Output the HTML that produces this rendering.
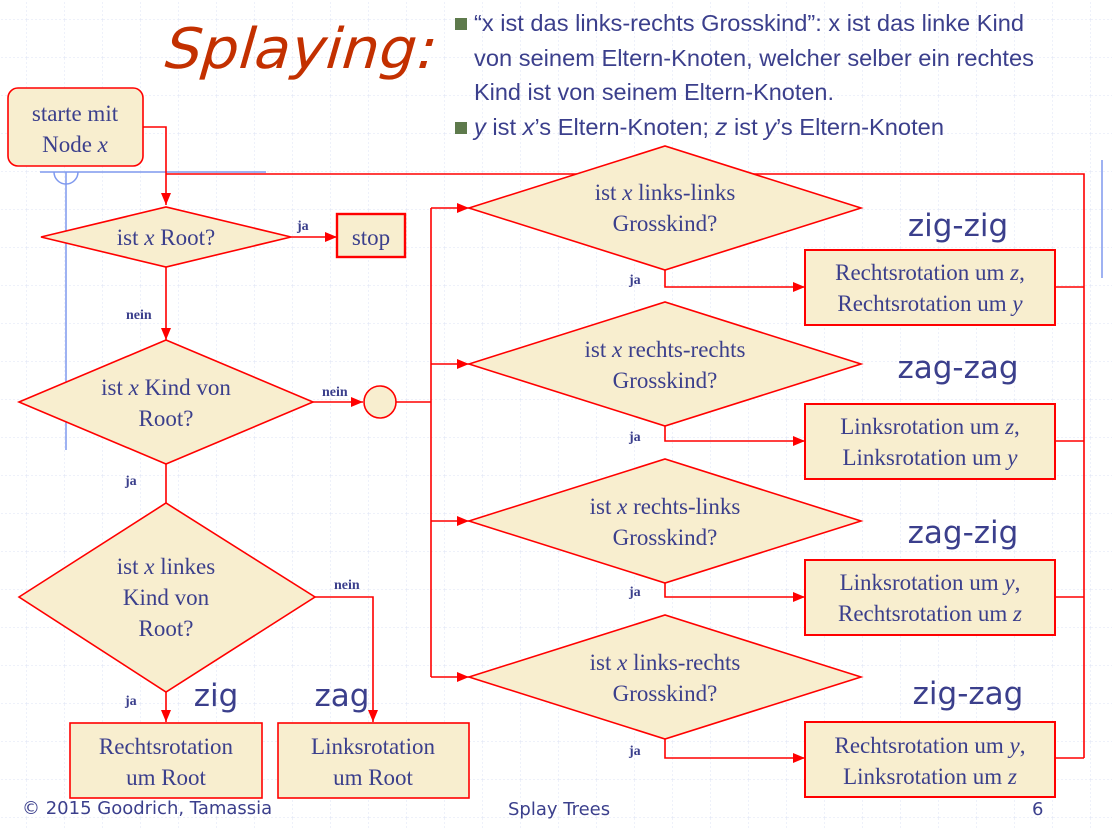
<!DOCTYPE html>
<html><head><meta charset="utf-8"><style>
html,body{margin:0;padding:0;background:#fff;}
svg{display:block}
.s{font-family:"Liberation Serif",serif;fill:#3b3f8c;font-size:23px}
.b{font-family:"Liberation Serif",serif;fill:#3b3f8c;font-size:14px;font-weight:bold}
.a{font-family:"Liberation Sans",sans-serif;fill:#3b3f8c}
.l{font-family:"DejaVu Sans",sans-serif;fill:#3b3f8c;font-size:31px}
</style></head><body>
<svg width="1112" height="828" viewBox="0 0 1112 828" xmlns="http://www.w3.org/2000/svg">
<defs>
<pattern id="g" x="-11" y="-18" width="38" height="38" patternUnits="userSpaceOnUse">
<path d="M38 0V38M0 38H38" stroke="#dde3f4" stroke-width="1" stroke-dasharray="2 2" fill="none"/>
</pattern>
<marker id="ar" markerWidth="12" markerHeight="10" refX="12" refY="5" orient="auto" markerUnits="userSpaceOnUse">
<path d="M0 0L12 5L0 10Z" fill="#f00"/>
</marker>
</defs>
<rect width="1112" height="828" fill="url(#g)"/>
<g stroke="#7f99ee" stroke-width="1.5" fill="none">
<path d="M40 172H266"/><path d="M66 172V450"/><path d="M54 172A12 12 0 0 0 78 172"/>
<path d="M1102 160V278"/>
</g>
<text transform="translate(160,68) skewX(-16)" x="0" y="0" font-family="DejaVu Sans,sans-serif" font-size="56" fill="#c33000" textLength="272" lengthAdjust="spacingAndGlyphs">Splaying:</text>
<g fill="#5e7a4c"><rect x="455" y="18" width="12" height="12"/><rect x="455" y="122" width="12" height="12"/></g>
<g class="a" font-size="23">
<text x="474" y="31" textLength="550" lengthAdjust="spacingAndGlyphs">“x ist das links-rechts Grosskind”: x ist das linke Kind</text>
<text x="474" y="66" textLength="560" lengthAdjust="spacingAndGlyphs">von seinem Eltern-Knoten, welcher selber ein rechtes</text>
<text x="474" y="100" textLength="360" lengthAdjust="spacingAndGlyphs">Kind ist von seinem Eltern-Knoten.</text>
<text x="474" y="135" textLength="470" lengthAdjust="spacingAndGlyphs"><tspan font-style="italic">y</tspan> ist <tspan font-style="italic">x</tspan>’s Eltern-Knoten; <tspan font-style="italic">z</tspan> ist <tspan font-style="italic">y</tspan>’s Eltern-Knoten</text>
</g>
<g stroke="#f00" stroke-width="1.6" fill="none">
<path d="M143 127H166V205" marker-end="url(#ar)"/>
<path d="M166 174H1084V758"/>
<path d="M291 237H337" marker-end="url(#ar)"/>
<path d="M166 267V340" marker-end="url(#ar)"/>
<path d="M313 402H363" marker-end="url(#ar)"/>
<path d="M396 402H431"/>
<path d="M431 208V677"/>
<path d="M431 208H469" marker-end="url(#ar)"/>
<path d="M431 364H469" marker-end="url(#ar)"/>
<path d="M431 521H469" marker-end="url(#ar)"/>
<path d="M431 677H469" marker-end="url(#ar)"/>
<path d="M166 464V503"/>
<path d="M315 597H373V722" marker-end="url(#ar)"/>
<path d="M166 692V722" marker-end="url(#ar)"/>
<path d="M665 270V287H805" marker-end="url(#ar)"/>
<path d="M665 426V441H805" marker-end="url(#ar)"/>
<path d="M665 583V597H805" marker-end="url(#ar)"/>
<path d="M665 739V758H805" marker-end="url(#ar)"/>
<path d="M1055 287H1084M1055 441H1084M1055 597H1084M1055 758H1084"/>
</g>
<g fill="#f8eecf" stroke="#f00" stroke-width="1.6">
<rect x="8" y="88" width="135" height="78" rx="10"/>
<path d="M41 237L166 207L291 237L166 267Z"/>
<rect x="337" y="214" width="68" height="43" stroke-width="2.4"/>
<path d="M19 402L166 340L313 402L166 464Z"/>
<circle cx="380" cy="402" r="16"/>
<path d="M19 597L166 503L315 597L166 692Z"/>
<rect x="70" y="723" width="192" height="75"/>
<rect x="278" y="723" width="191" height="75"/>
<path d="M469 208L665 146L861 208L665 270Z"/>
<path d="M469 364L665 302L861 364L665 426Z"/>
<path d="M469 521L665 459L861 521L665 583Z"/>
<path d="M469 677L665 615L861 677L665 739Z"/>
<rect x="805" y="250" width="250" height="75" stroke-width="2"/>
<rect x="805" y="404" width="250" height="75" stroke-width="2"/>
<rect x="805" y="560" width="250" height="75" stroke-width="2"/>
<rect x="805" y="722" width="250" height="75" stroke-width="2"/>
</g>
<g class="s" text-anchor="middle">
<text x="75" y="121">starte mit</text>
<text x="75" y="152">Node <tspan font-style="italic">x</tspan></text>
<text x="166" y="245">ist <tspan font-style="italic">x</tspan> Root?</text>
<text x="371" y="245">stop</text>
<text x="166" y="395">ist <tspan font-style="italic">x</tspan> Kind von</text>
<text x="166" y="426">Root?</text>
<text x="166" y="574">ist <tspan font-style="italic">x</tspan> linkes</text>
<text x="166" y="605">Kind von</text>
<text x="166" y="636">Root?</text>
<text x="166" y="754">Rechtsrotation</text>
<text x="166" y="785">um Root</text>
<text x="373" y="754">Linksrotation</text>
<text x="373" y="785">um Root</text>
<text x="665" y="200">ist <tspan font-style="italic">x</tspan> links-links</text>
<text x="665" y="231">Grosskind?</text>
<text x="665" y="357">ist <tspan font-style="italic">x</tspan> rechts-rechts</text>
<text x="665" y="388">Grosskind?</text>
<text x="665" y="514">ist <tspan font-style="italic">x</tspan> rechts-links</text>
<text x="665" y="545">Grosskind?</text>
<text x="665" y="670">ist <tspan font-style="italic">x</tspan> links-rechts</text>
<text x="665" y="701">Grosskind?</text>
<text x="930" y="280">Rechtsrotation um <tspan font-style="italic">z</tspan>,</text>
<text x="930" y="311">Rechtsrotation um <tspan font-style="italic">y</tspan></text>
<text x="930" y="434">Linksrotation um <tspan font-style="italic">z</tspan>,</text>
<text x="930" y="465">Linksrotation um <tspan font-style="italic">y</tspan></text>
<text x="930" y="590">Linksrotation um <tspan font-style="italic">y</tspan>,</text>
<text x="930" y="621">Rechtsrotation um <tspan font-style="italic">z</tspan></text>
<text x="930" y="753">Rechtsrotation um <tspan font-style="italic">y</tspan>,</text>
<text x="930" y="784">Linksrotation um <tspan font-style="italic">z</tspan></text>
</g>
<g class="b">
<text x="297" y="230">ja</text>
<text x="126" y="319">nein</text>
<text x="322" y="396">nein</text>
<text x="125" y="485">ja</text>
<text x="334" y="589">nein</text>
<text x="125" y="705">ja</text>
<text x="629" y="284">ja</text>
<text x="629" y="441">ja</text>
<text x="629" y="596">ja</text>
<text x="629" y="755">ja</text>
</g>
<g class="l" text-anchor="middle">
<text x="216" y="706">zig</text>
<text x="342" y="706">zag</text>
<text x="958" y="236">zig-zig</text>
<text x="958" y="378">zag-zag</text>
<text x="963" y="543">zag-zig</text>
<text x="968" y="704">zig-zag</text>
</g>
<g font-family="DejaVu Sans,sans-serif" fill="#3b3f8c" font-size="18">
<text x="22" y="814">© 2015 Goodrich, Tamassia</text>
<text x="508" y="815">Splay Trees</text>
<text x="1032" y="815">6</text>
</g>
</svg>
</body></html>
